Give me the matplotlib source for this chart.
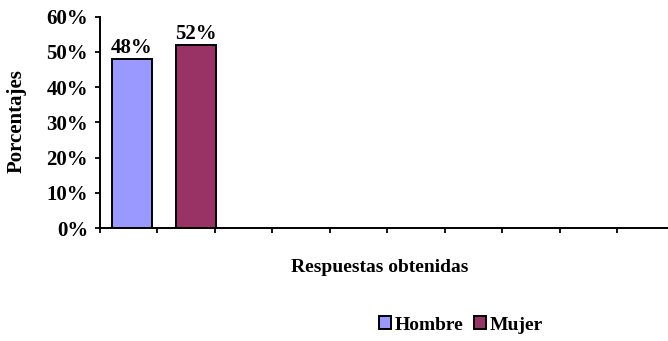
import matplotlib.pyplot as plt

series = ['Hombre', 'Mujer']
values = [48, 52]
colors = ['#9999FF', '#993366']
bar_pos = [0.555, 1.675]
n_cats = 9
y_ticks = [0, 10, 20, 30, 40, 50, 60]

plt.rcParams['font.family'] = ['Liberation Serif', 'DejaVu Serif']
plt.rcParams['font.weight'] = 'bold'

fig = plt.figure(figsize=(6.68, 3.41), dpi=100)
ax = fig.add_axes([100 / 668, 1 - 228 / 341, 1 - 100 / 668, (228 - 16.7) / 341])

for x, v, c, s in zip(bar_pos, values, colors, series):
    ax.bar(x, v, width=0.7, color=c, edgecolor='black', linewidth=1.4, label=s, zorder=3)
    ax.text(x, v + 0.2, f'{v}%', ha='center', va='bottom', fontsize=15, fontweight='bold')

ax.set_xlim(0, 9.88)
ax.set_ylim(0, 60)
ax.set_xticks(range(n_cats + 1))
ax.set_xticklabels([])
ax.set_yticks(y_ticks)
ax.set_yticklabels([f'{t}%' for t in y_ticks], fontsize=15, fontweight='bold')
ax.tick_params(axis='both', direction='out', length=3.5, width=1.3, pad=5)
for side in ['top', 'right']:
    ax.spines[side].set_visible(False)
for side in ['left', 'bottom']:
    ax.spines[side].set_linewidth(1.4)

fig.text(17 / 668, 1 - 121 / 341, 'Porcentajes', rotation=90, ha='center', va='center',
         fontsize=15, fontweight='bold')
fig.text(380 / 668, 1 - 268 / 341, 'Respuestas obtenidas', ha='center', va='center',
         fontsize=14, fontweight='bold')

fig.legend(loc='center', bbox_to_anchor=(461 / 668, 1 - 325 / 341), ncol=2, frameon=False,
           handlelength=0.65, handleheight=0.65, handletextpad=0.2,
           columnspacing=0.5, prop={'weight': 'bold', 'size': 14})

fig.savefig('out.png', dpi=100)
